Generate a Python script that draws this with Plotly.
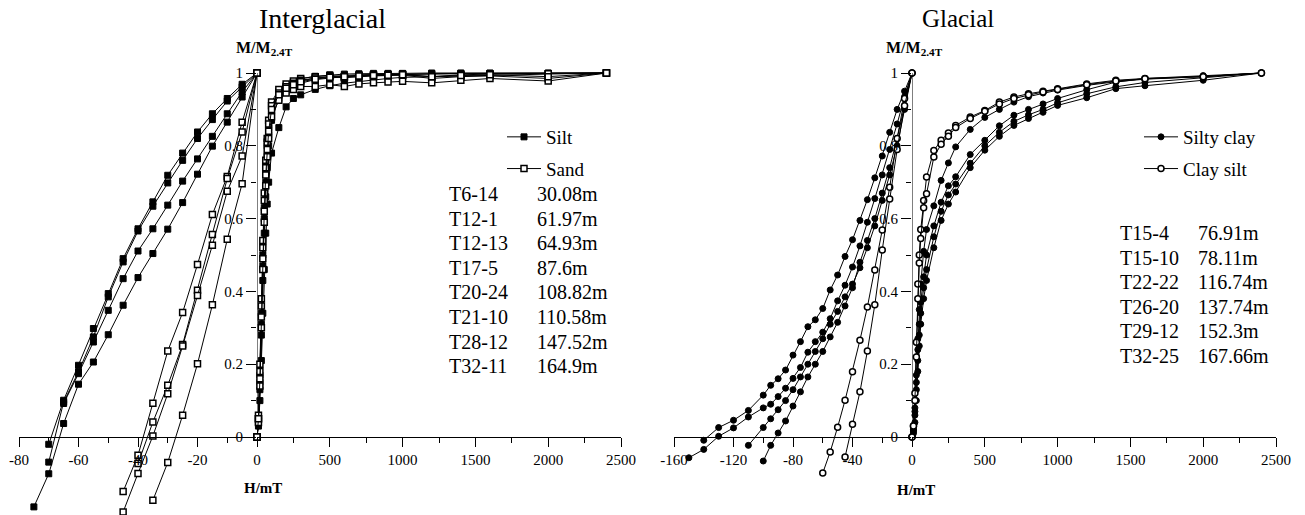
import plotly.graph_objects as go

# ---------------------------------------------------------------------------
# Data: normalised remanence M/M2.4T versus field H (mT)
# ---------------------------------------------------------------------------

# Interglacial - backfield demagnetisation
IG_BF_FIELD = [0, -5, -10, -15, -20, -25, -30, -35, -40, -45, -50, -55, -60, -65, -70, -75]
IG_BF_SILT = [
    [1, 0.969, 0.930, 0.888, 0.838, 0.780, 0.719, 0.646, 0.572, 0.490, 0.394, 0.298, 0.197, 0.101, -0.020],
    [1, 0.962, 0.923, 0.872, 0.820, 0.760, 0.698, 0.634, 0.566, 0.481, 0.385, 0.275, 0.179, 0.096, -0.069],
    [1, 0.948, 0.888, 0.826, 0.764, 0.703, 0.637, 0.572, 0.511, 0.435, 0.348, 0.261, 0.174, 0.092],
    [1, 0.934, 0.865, 0.799, 0.722, 0.644, 0.571, 0.504, 0.438, 0.362, 0.281, 0.206, 0.145, 0.037, -0.101, -0.192],
]
IG_BF_SAND = [
    [1, 0.865, 0.716, 0.611, 0.474, 0.342, 0.236, 0.093, -0.050, -0.150],
    [1, 0.838, 0.710, 0.556, 0.403, 0.254, 0.142, 0.041, -0.073],
    [1, 0.772, 0.675, 0.527, 0.389, 0.250, 0.119, 0.003, -0.100, -0.206],
    [1, 0.696, 0.543, 0.363, 0.201, 0.060, -0.070, -0.174],
]

# Interglacial - IRM acquisition
IG_IRM_FIELD = [0, 10, 20, 30, 40, 50, 60, 70, 80, 100, 150, 200, 250, 300, 400, 500,
                600, 700, 800, 900, 1000, 1200, 1400, 1600, 2000, 2400]
IG_IRM_SILT = [
    [0, 0.05, 0.17, 0.34, 0.50, 0.63, 0.73, 0.80, 0.85, 0.91, 0.950, 0.966, 0.975, 0.984, 0.991, 0.995,
     0.997, 0.998, 0.999, 0.999, 0.999, 1.0, 1.0, 1.0, 1.0, 1.0],
    [0, 0.04, 0.15, 0.31, 0.47, 0.60, 0.70, 0.77, 0.83, 0.89, 0.940, 0.960, 0.970, 0.978, 0.986, 0.990,
     0.993, 0.995, 0.996, 0.997, 0.998, 0.998, 0.999, 0.999, 0.999, 1.0],
    [0, 0.04, 0.13, 0.28, 0.43, 0.56, 0.66, 0.74, 0.80, 0.87, 0.930, 0.953, 0.963, 0.972, 0.982, 0.987,
     0.990, 0.993, 0.994, 0.995, 0.996, 0.997, 0.998, 0.998, 0.999, 1.0],
    [0, 0.03, 0.10, 0.21, 0.34, 0.46, 0.56, 0.64, 0.70, 0.78, 0.850, 0.907, 0.930, 0.940, 0.955, 0.965,
     0.972, 0.977, 0.981, 0.985, 0.988, 0.990, 0.993, 0.995, 0.997, 1.0],
]
IG_IRM_SAND = [
    [0, 0.06, 0.20, 0.38, 0.54, 0.67, 0.76, 0.82, 0.87, 0.92, 0.955, 0.970, 0.978, 0.985, 0.990, 0.993,
     0.990, 0.994, 0.995, 0.996, 0.996, 0.990, 0.995, 0.997, 0.998, 1.0],
    [0, 0.05, 0.18, 0.36, 0.52, 0.65, 0.74, 0.81, 0.86, 0.91, 0.945, 0.962, 0.972, 0.980, 0.986, 0.990,
     0.987, 0.990, 0.992, 0.993, 0.994, 0.985, 0.990, 0.992, 0.985, 1.0],
    [0, 0.04, 0.14, 0.30, 0.46, 0.59, 0.69, 0.77, 0.82, 0.88, 0.925, 0.945, 0.955, 0.963, 0.963, 0.968,
     0.963, 0.970, 0.973, 0.975, 0.977, 0.973, 0.980, 0.985, 0.978, 1.0],
    [0, 0.05, 0.16, 0.33, 0.49, 0.62, 0.72, 0.79, 0.84, 0.90, 0.940, 0.958, 0.968, 0.976, 0.983, 0.988,
     0.990, 0.992, 0.993, 0.994, 0.995, 0.990, 0.993, 0.995, 0.990, 1.0],
]
IG_SAMPLES = ["T6-14", "T12-1", "T12-13", "T17-5", "T20-24", "T21-10", "T28-12", "T32-11"]
IG_DEPTHS = ["30.08m", "61.97m", "64.93m", "87.6m", "108.82m", "110.58m", "147.52m", "164.9m"]

# Glacial - backfield demagnetisation
G_BF_FIELD = [0, -5, -10, -15, -20, -25, -30, -35, -40, -45, -50, -55, -60, -65, -70, -75,
              -80, -85, -90, -95, -100, -110, -120, -130, -140, -150]
G_BF_SILTY_CLAY = [
    [1, 0.950, 0.900, 0.837, 0.772, 0.712, 0.652, 0.595, 0.542, 0.496, 0.445, 0.404, 0.353, 0.322,
     0.303, 0.262, 0.225, 0.184, 0.160, 0.142, 0.115, 0.073, 0.046, 0.026, -0.009],
    [1, 0.935, 0.860, 0.790, 0.720, 0.655, 0.590, 0.525, 0.467, 0.417, 0.374, 0.325, 0.288, 0.262,
     0.233, 0.191, 0.161, 0.134, 0.111, 0.090, 0.080, 0.055, 0.025, 0.002, -0.034, -0.057],
    [1, 0.900, 0.800, 0.720, 0.650, 0.580, 0.520, 0.465, 0.420, 0.385, 0.345, 0.310, 0.270, 0.235,
     0.200, 0.165, 0.130, 0.100, 0.075, 0.050, 0.026, -0.023],
    [1, 0.910, 0.820, 0.740, 0.670, 0.600, 0.540, 0.480, 0.410, 0.360, 0.315, 0.275, 0.235, 0.200,
     0.165, 0.124, 0.085, 0.044, 0.011, -0.023, -0.066],
]
G_BF_CLAY_SILT = [
    [1, 0.930, 0.820, 0.686, 0.569, 0.459, 0.357, 0.266, 0.179, 0.101, 0.027, -0.041, -0.099],
    [1, 0.910, 0.790, 0.654, 0.514, 0.363, 0.236, 0.124, 0.035, -0.055],
]

# Glacial - IRM acquisition
G_IRM_FIELD = [0, 10, 20, 30, 40, 50, 60, 80, 100, 150, 200, 250, 300, 400, 500, 600, 700, 800,
               900, 1000, 1200, 1400, 1600, 2000, 2400]
G_IRM_SILTY_CLAY = [
    [0, 0.02, 0.08, 0.17, 0.27, 0.35, 0.42, 0.51, 0.57, 0.635, 0.705, 0.753, 0.797, 0.845, 0.878,
     0.900, 0.920, 0.935, 0.945, 0.953, 0.966, 0.976, 0.983, 0.990, 1.0],
    [0, 0.02, 0.07, 0.15, 0.24, 0.31, 0.37, 0.44, 0.50, 0.580, 0.645, 0.690, 0.715, 0.776, 0.815,
     0.855, 0.884, 0.900, 0.915, 0.930, 0.954, 0.975, 0.985, 0.993, 1.0],
    [0, 0.015, 0.06, 0.13, 0.21, 0.28, 0.34, 0.41, 0.46, 0.550, 0.620, 0.665, 0.695, 0.752, 0.800,
     0.837, 0.867, 0.885, 0.900, 0.918, 0.943, 0.962, 0.974, 0.988, 1.0],
    [0, 0.01, 0.04, 0.10, 0.18, 0.25, 0.31, 0.38, 0.43, 0.520, 0.595, 0.640, 0.673, 0.740, 0.788,
     0.826, 0.856, 0.875, 0.892, 0.911, 0.932, 0.957, 0.965, 0.980, 1.0],
]
G_IRM_CLAY_SILT = [
    [0, 0.03, 0.12, 0.26, 0.42, 0.50, 0.57, 0.65, 0.714, 0.787, 0.815, 0.835, 0.856, 0.879, 0.897,
     0.920, 0.934, 0.943, 0.950, 0.957, 0.970, 0.980, 0.985, 0.990, 1.0],
    [0, 0.03, 0.10, 0.22, 0.38, 0.478, 0.545, 0.63, 0.668, 0.769, 0.804, 0.826, 0.850, 0.875, 0.895,
     0.915, 0.930, 0.940, 0.948, 0.955, 0.968, 0.978, 0.984, 0.990, 1.0],
]
G_SAMPLES = ["T15-4", "T15-10", "T22-22", "T26-20", "T29-12", "T32-25"]
G_DEPTHS = ["76.91m", "78.11m", "116.74m", "137.74m", "152.3m", "167.66m"]

# Axis ticks
Y_TICKS = [0, 0.2, 0.4, 0.6, 0.8, 1]
Y_MINOR = [0.1, 0.3, 0.5, 0.7, 0.9]
IG_NEG_TICKS = [-80, -60, -40, -20]
IG_NEG_MINOR = [-70, -50, -30, -10]
G_NEG_TICKS = [-160, -120, -80, -40]
G_NEG_MINOR = [-140, -100, -60, -20]
POS_TICKS = [0, 500, 1000, 1500, 2000, 2500]
POS_MINOR = [250, 750, 1250, 1750, 2250]

# ---------------------------------------------------------------------------
# Page geometry (pixels)
# ---------------------------------------------------------------------------
FONT = "Liberation Serif"
W, H = 1305, 515
Y0_PX, Y1_PX = 437, 73          # rows of M = 0 and M = 1
PX_PER_UNIT = Y0_PX - Y1_PX
Y_RANGE = [-0.21, 1.05]


def fx(px):
    return px / W


def fy(py):
    return (H - py) / H


Y_DOMAIN = [fy(Y0_PX - Y_RANGE[0] * PX_PER_UNIT), fy(Y0_PX - Y_RANGE[1] * PX_PER_UNIT)]
TICKFONT = dict(family=FONT, size=15, color="black")


def x_axis(px0, px1, rng, major, minor):
    return dict(
        domain=[fx(px0), fx(px1)], range=rng, anchor="free", position=fy(Y0_PX),
        showline=True, linecolor="black", linewidth=1,
        ticks="outside", ticklen=9, tickwidth=1, tickcolor="black",
        tickvals=major, ticktext=[f"{v:g}" for v in major],
        minor=dict(tickvals=minor, ticks="outside", ticklen=5, tickwidth=1, tickcolor="black"),
        showgrid=False, zeroline=False, tickfont=TICKFONT, fixedrange=True, automargin=False,
    )


def y_axis(anchor):
    return dict(
        domain=Y_DOMAIN, range=Y_RANGE, anchor=anchor, side="left",
        showline=False, ticks="outside", ticklen=10, tickwidth=1, tickcolor="black",
        tickvals=Y_TICKS, ticktext=[f"{v:g}" for v in Y_TICKS],
        minor=dict(tickvals=Y_MINOR, ticks="outside", ticklen=5, tickwidth=1, tickcolor="black"),
        showgrid=False, zeroline=False, tickfont=TICKFONT, fixedrange=True, automargin=False,
    )


# Marker styles
SILT = dict(symbol="square", size=6, color="black", line=dict(color="black", width=1))
SAND = dict(symbol="square", size=6, color="white", line=dict(color="black", width=1.5))
SILTY_CLAY = dict(symbol="circle", size=6, color="black", line=dict(color="black", width=1))
CLAY_SILT = dict(symbol="circle", size=6, color="white", line=dict(color="black", width=1.5))

fig = go.Figure()


def add_curves(field, curves, xa, ya, marker, name, legend):
    for i, m in enumerate(curves):
        fig.add_trace(go.Scatter(
            x=field[:len(m)], y=m, xaxis=xa, yaxis=ya, mode="lines+markers",
            line=dict(color="black", width=1), marker=marker,
            name=name, legendgroup=name, legend=legend,
            showlegend=(i == 0 and xa in ("x2", "x4")), cliponaxis=False,
        ))


# Interglacial panel: x (backfield), x2 (IRM), shared y
add_curves(IG_IRM_FIELD, IG_IRM_SILT, "x2", "y", SILT, "Silt", "legend")
add_curves(IG_BF_FIELD, IG_BF_SILT, "x", "y", SILT, "Silt", "legend")
add_curves(IG_IRM_FIELD, IG_IRM_SAND, "x2", "y", SAND, "Sand", "legend")
add_curves(IG_BF_FIELD, IG_BF_SAND, "x", "y", SAND, "Sand", "legend")

# Glacial panel: x3 (backfield), x4 (IRM), shared y2
add_curves(G_IRM_FIELD, G_IRM_SILTY_CLAY, "x4", "y2", SILTY_CLAY, "Silty clay", "legend2")
add_curves(G_BF_FIELD, G_BF_SILTY_CLAY, "x3", "y2", SILTY_CLAY, "Silty clay", "legend2")
add_curves(G_IRM_FIELD, G_IRM_CLAY_SILT, "x4", "y2", CLAY_SILT, "Clay silt", "legend2")
add_curves(G_BF_FIELD, G_BF_CLAY_SILT, "x3", "y2", CLAY_SILT, "Clay silt", "legend2")

# Vertical M axis lines (from M = 0 to M = 1 at H = 0)
shapes = [
    dict(type="line", xref="x2", yref="y", x0=0, x1=0, y0=0, y1=1,
         line=dict(color="black", width=1), layer="below"),
    dict(type="line", xref="x4", yref="y2", x0=0, x1=0, y0=0, y1=1,
         line=dict(color="black", width=1), layer="below"),
]

annotations = []


def text(px, py, s, size, anchor="center", bold=False):
    annotations.append(dict(
        x=fx(px), y=fy(py), xref="paper", yref="paper", text=f"<b>{s}</b>" if bold else s,
        showarrow=False, xanchor=anchor, yanchor="middle",
        font=dict(family=FONT, size=size, color="black"),
    ))


# Panel titles and axis names
text(322, 18, "Interglacial", 28)
text(958, 18, "Glacial", 25)
text(264, 48, "M/M<sub>2.4T</sub>", 16, bold=True)
text(914, 48, "M/M<sub>2.4T</sub>", 16, bold=True)
text(263, 488, "H/mT", 15, bold=True)
text(916, 490, "H/mT", 15, bold=True)

# Sample / depth listings
ROW = 24.6
for i, (s, d) in enumerate(zip(IG_SAMPLES, IG_DEPTHS)):
    text(447, 194 + i * ROW, s, 20, anchor="left")
    text(535, 194 + i * ROW, d, 20, anchor="left")
for i, (s, d) in enumerate(zip(G_SAMPLES, G_DEPTHS)):
    text(1118, 233 + i * ROW, s, 20, anchor="left")
    text(1196, 233 + i * ROW, d, 20, anchor="left")

LEGEND_STYLE = dict(
    xanchor="left", yanchor="top", font=dict(family=FONT, size=19, color="black"),
    bgcolor="rgba(0,0,0,0)", traceorder="grouped", tracegroupgap=4, itemwidth=34,
)

fig.update_layout(
    width=W, height=H, autosize=False,
    margin=dict(l=0, r=0, t=0, b=0, autoexpand=False),
    paper_bgcolor="white", plot_bgcolor="rgba(0,0,0,0)",
    font=dict(family=FONT, color="black"),
    xaxis=x_axis(19, 257, [-80, 0], IG_NEG_TICKS, IG_NEG_MINOR),
    xaxis2=x_axis(257, 621, [0, 2500], POS_TICKS, POS_MINOR),
    xaxis3=x_axis(674, 912, [-160, 0], G_NEG_TICKS, G_NEG_MINOR),
    xaxis4=x_axis(912, 1276, [0, 2500], POS_TICKS, POS_MINOR),
    yaxis=y_axis("x2"),
    yaxis2=y_axis("x4"),
    legend=dict(x=fx(502), y=fy(118), **LEGEND_STYLE),
    legend2=dict(x=fx(1139), y=fy(118), **LEGEND_STYLE),
    shapes=shapes,
    annotations=annotations,
)

fig.write_html("out.html")
